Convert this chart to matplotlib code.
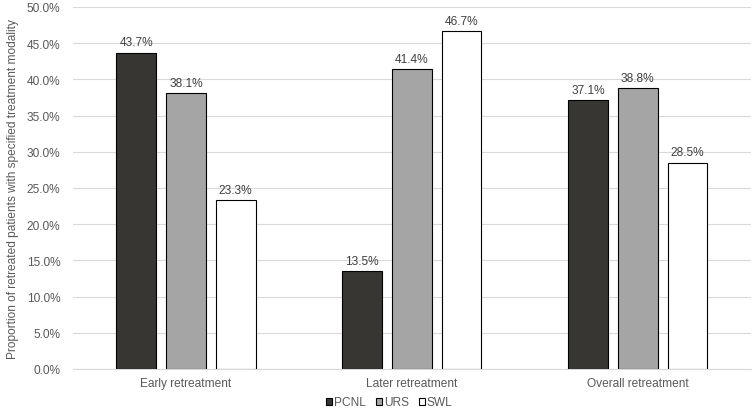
import numpy as np
import matplotlib.pyplot as plt

plt.rcParams['font.family'] = ['Liberation Sans', 'DejaVu Sans']

categories = ['Early retreatment', 'Later retreatment', 'Overall retreatment']
pcnl = [43.7, 13.5, 37.1]
urs = [38.1, 41.4, 38.8]
swl = [23.3, 46.7, 28.5]

series = [('PCNL', pcnl, '#383633'), ('URS', urs, '#a5a5a5'), ('SWL', swl, '#ffffff')]
txt = '#595959'
fs = 8.6

fig = plt.figure(figsize=(7.53, 4.10), dpi=100)
ax = fig.add_axes([0.097, 0.0976, 0.9, 0.8829])

x = np.arange(len(categories))
w = 0.176
step = 0.22
for i, (name, vals, col) in enumerate(series):
    pos = x + (i - 1) * step
    ax.bar(pos, vals, width=w, color=col, edgecolor='black', linewidth=0.8,
           label=name, zorder=3)
    for p, v in zip(pos, vals):
        ax.text(p, v + 0.6, f'{v:.1f}%', ha='center', va='bottom',
                fontsize=fs, color='#404040')

ax.set_xlim(-0.5, 2.5)
ax.set_ylim(0, 50)
ax.set_yticks(np.arange(0, 50.1, 5))
ax.set_yticklabels([f'{t:.1f}%' for t in np.arange(0, 50.1, 5)])
ax.set_xticks(x)
ax.set_xticklabels(categories)
ax.tick_params(axis='both', length=0, labelsize=fs, labelcolor=txt)
ax.tick_params(axis='x', pad=6)
ax.tick_params(axis='y', pad=9)
ax.grid(axis='y', color='#d9d9d9', linewidth=0.8, zorder=0)
for s in ['top', 'right', 'left']:
    ax.spines[s].set_visible(False)
ax.spines['bottom'].set_color('#d9d9d9')
ax.set_ylabel('Proportion of retreated patients with specified treatment modality',
              fontsize=fs, color=txt, labelpad=6)

h, l = ax.get_legend_handles_labels()
fig.legend(h, l, loc='lower center', bbox_to_anchor=(0.517, -0.016), ncol=3,
           frameon=False, fontsize=fs, labelcolor=txt, handlelength=0.55,
           handleheight=0.55, handletextpad=0.15, columnspacing=0.8,
           borderaxespad=0.2)

fig.savefig('out.png', dpi=100)
